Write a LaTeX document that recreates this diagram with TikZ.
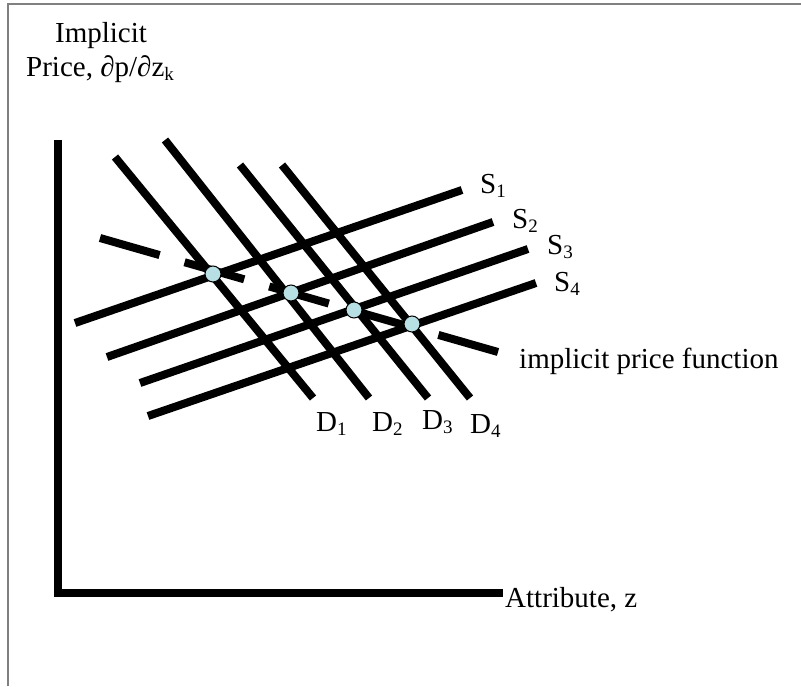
\documentclass[tikz,border=0pt]{standalone}
\usepackage{fontspec}
\setmainfont{Liberation Serif}
\definecolor{eqfill}{RGB}{184,224,228}
\definecolor{framegray}{RGB}{128,128,128}
\newcommand{\lbsub}[1]{\raisebox{-4pt}{\fontsize{19}{19}\selectfont #1}}
\begin{document}
\begin{tikzpicture}[x=1pt,y=-1pt,
  thick line/.style={line width=8pt,line cap=butt},
  eqpt/.style={circle,draw=black,line width=1pt,fill=eqfill,minimum size=16pt,inner sep=0pt},
  lbl/.style={anchor=base west,inner sep=0pt,font=\fontsize{29}{34}\selectfont}]
\useasboundingbox (0,0) rectangle (801,686);
% frame
\draw[framegray,line width=1.5pt] (8,686) -- (8,4) -- (801,4);
% axes
\coordinate (ytop) at (58,140);
\coordinate (orig) at (58,593);
\coordinate (xend) at (503,593);
\draw[thick line,line join=miter] (ytop) -- (orig) -- (xend);
% supply lines
\coordinate (s1a) at (75,323);  \coordinate (s1b) at (462,190);
\coordinate (s2a) at (107,357); \coordinate (s2b) at (493,222);
\coordinate (s3a) at (140,383); \coordinate (s3b) at (528,249);
\coordinate (s4a) at (148,416); \coordinate (s4b) at (536,283);
\foreach \i in {1,2,3,4} \draw[thick line] (s\i a) -- (s\i b);
% demand lines
\coordinate (d1a) at (115,157); \coordinate (d1b) at (313,398);
\coordinate (d2a) at (165,140); \coordinate (d2b) at (369,398);
\coordinate (d3a) at (240,165); \coordinate (d3b) at (428,398);
\coordinate (d4a) at (282,165); \coordinate (d4b) at (470,398);
\foreach \i in {1,2,3,4} \draw[thick line] (d\i a) -- (d\i b);
% implicit price function
\coordinate (ipa) at (100,238);
\coordinate (ipb) at (498,352);
\draw[thick line,dash pattern=on 62pt off 26pt] (ipa) -- (ipb);
% equilibria
\node[eqpt] (e1) at (213,274) {};
\node[eqpt] (e2) at (291,293) {};
\node[eqpt] (e3) at (354,310) {};
\node[eqpt] (e4) at (412,324) {};
% labels
\node[lbl,anchor=base] (t1) at (101,42) {Implicit};
\node[lbl] (t2) at (26,76) {Price, ∂p/∂z\lbsub{k}};
\node[lbl] (ls1) at (480,193) {S\lbsub{1}};
\node[lbl] (ls2) at (512,228) {S\lbsub{2}};
\node[lbl] (ls3) at (547,254) {S\lbsub{3}};
\node[lbl] (ls4) at (554,291) {S\lbsub{4}};
\node[lbl] (ld1) at (316,431) {D\lbsub{1}};
\node[lbl] (ld2) at (372,431) {D\lbsub{2}};
\node[lbl] (ld3) at (422,429) {D\lbsub{3}};
\node[lbl] (ld4) at (470,433) {D\lbsub{4}};
\node[lbl] (ipf) at (519,368) {implicit price function};
\node[lbl] (attr) at (505,607) {Attribute, z};
\end{tikzpicture}
\end{document}
